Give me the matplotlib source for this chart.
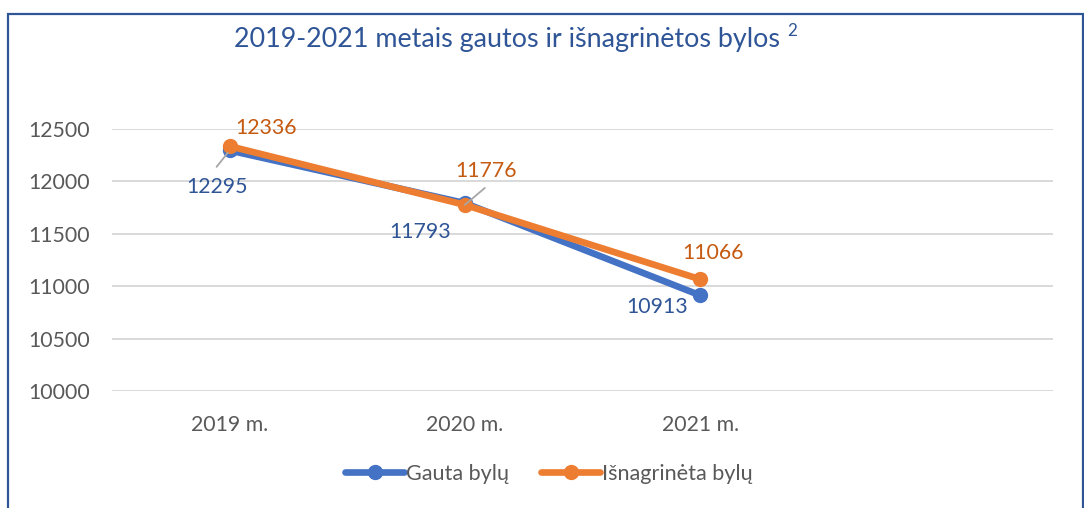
import matplotlib
matplotlib.use("Agg")
import matplotlib.pyplot as plt
from matplotlib.patches import Rectangle

plt.rcParams['font.family'] = ['Lato', 'DejaVu Sans']

categories = ["2019 m.", "2020 m.", "2021 m."]
gauta = [12295, 11793, 10913]
isnagrineta = [12336, 11776, 11066]
yticks = [10000, 10500, 11000, 11500, 12000, 12500]
title = "2019-2021 metais gautos ir išnagrinėtos bylos"
series_names = ["Gauta bylų", "Išnagrinėta bylų"]

BLUE = "#4472C4"
ORANGE = "#ED7D31"
BLUE_TXT = "#2F5597"
ORANGE_TXT = "#C55A11"
GRAY = "#595959"

W, H = 1084, 508
fig = plt.figure(figsize=(W / 100, H / 100), dpi=100)
ax = fig.add_axes([112 / W, 1 - 391 / H, (1053 - 112) / W, (391 - 129) / H])

# outer frame
fig.patches.append(Rectangle((8 / W, -0.05), (1083 - 8) / W, 1 - 14 / H + 0.05,
                             transform=fig.transFigure, fill=False,
                             edgecolor="#2F5597", linewidth=1.6))

x = list(range(len(categories)))
ax.plot(x, gauta, color=BLUE, lw=4.8, marker='o', ms=10, label=series_names[0],
        solid_capstyle='round', zorder=3)
ax.plot(x, isnagrineta, color=ORANGE, lw=4.8, marker='o', ms=10, label=series_names[1],
        solid_capstyle='round', zorder=4)

ax.set_xlim(-0.5, 3.5)
ax.set_ylim(10000, 12500)
ax.set_yticks(yticks)
ax.set_xticks(x)
ax.set_xticklabels(categories)
ax.grid(axis='y', color="#D9D9D9", lw=1.4)
ax.set_axisbelow(True)
for s in ax.spines.values():
    s.set_visible(False)
ax.tick_params(axis='both', length=0, labelsize=15.3, labelcolor=GRAY)
ax.tick_params(axis='y', pad=16)
ax.tick_params(axis='x', pad=17)

# data labels (offsets in points)
g_off = [(-9, -26), (-32, -21), (-31, -8.6)]
i_off = [(26, 13), (15, 24.5), (9, 19)]
for xi, v, off in zip(x, gauta, g_off):
    ax.annotate(str(v), (xi, v), xytext=off, textcoords='offset points',
                ha='center', va='center', fontsize=15.3, color=BLUE_TXT, zorder=6)
for xi, v, off in zip(x, isnagrineta, i_off):
    ax.annotate(str(v), (xi, v), xytext=off, textcoords='offset points',
                ha='center', va='center', fontsize=15.3, color=ORANGE_TXT, zorder=6)

# leader lines
ax.annotate("", (x[0], gauta[0]), xytext=(-9.4, -11.8), textcoords='offset points',
            arrowprops=dict(arrowstyle='-', color="#A6A6A6", lw=1.3, shrinkA=0, shrinkB=2),
            zorder=7)
ax.annotate("", (x[1], isnagrineta[1]), xytext=(14.4, 12.2), textcoords='offset points',
            arrowprops=dict(arrowstyle='-', color="#A6A6A6", lw=1.3, shrinkA=0, shrinkB=0),
            zorder=7)

t = fig.text(507 / W, 1 - 40 / H, title, ha='center', va='center',
             fontsize=19.4, color=BLUE_TXT)
plt.annotate("2", xy=(1, 0.75), xycoords=t, xytext=(5, 2), textcoords='offset points',
             fontsize=12.3, color=BLUE_TXT, ha='left', va='center')

fig.legend(loc='center', bbox_to_anchor=(549 / W, 1 - 474 / H), ncol=2, frameon=False,
           fontsize=15.6, handlelength=2.7, handletextpad=0.1, columnspacing=1.5,
           labelcolor=GRAY)

fig.savefig("out.png", dpi=100)
